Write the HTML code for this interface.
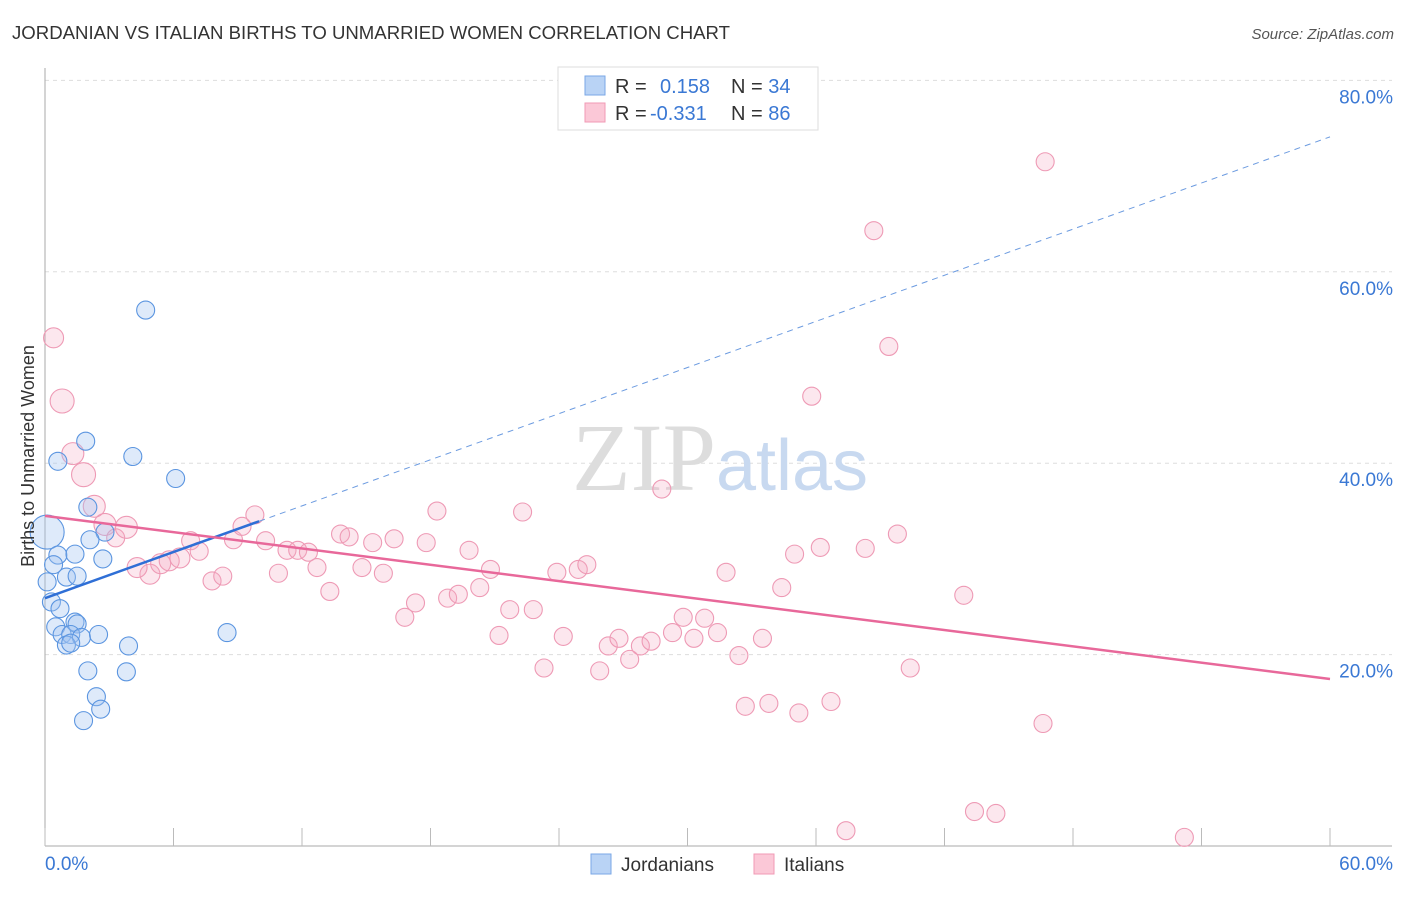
<!DOCTYPE html><html><head><meta charset="utf-8"><style>
body{margin:0;background:#fff;font-family:"Liberation Sans",sans-serif}
svg text{font-family:"Liberation Sans",sans-serif}
</style></head><body>
<svg width="1406" height="892">
<text x="12" y="39" font-size="18.6" fill="#333">JORDANIAN VS ITALIAN BIRTHS TO UNMARRIED WOMEN CORRELATION CHART</text>
<text x="1394" y="39" font-size="15" fill="#555" text-anchor="end" font-style="italic">Source: ZipAtlas.com</text>
<g id="grid"></g>
<text x="720" y="490" font-size="96" text-anchor="middle"><tspan fill="#ddd" font-family="Liberation Serif">ZIP</tspan><tspan fill="#c8d9f0" font-size="72">atlas</tspan></text>
<g id="pts"></g><g id="lines"></g>
<text transform="translate(34,456) rotate(-90)" font-size="18" fill="#333" text-anchor="middle">Births to Unmarried Women</text>
<g>
<rect x="558" y="67" width="260" height="63" fill="#fff" stroke="#ddd"/>
<rect x="585" y="76" width="20" height="19" fill="#b9d3f5" stroke="#7aa7e6"/>
<rect x="585" y="103" width="20" height="19" fill="#fbc8d7" stroke="#f09ab4"/>
<text x="615" y="93" font-size="20" fill="#333">R = <tspan fill="#3a78d4" x="660">0.158</tspan><tspan x="731" fill="#333">N = </tspan><tspan fill="#3a78d4">34</tspan></text>
<text x="615" y="120" font-size="20" fill="#333">R = <tspan fill="#3a78d4" x="650">-0.331</tspan><tspan x="731" fill="#333">N = </tspan><tspan fill="#3a78d4">86</tspan></text>
</g>
<g>
<rect x="591" y="854" width="20" height="20" fill="#b9d3f5" stroke="#7aa7e6"/>
<text x="621" y="871" font-size="19" fill="#333">Jordanians</text>
<rect x="754" y="854" width="20" height="20" fill="#fbc8d7" stroke="#f09ab4"/>
<text x="784" y="871" font-size="19" fill="#333">Italians</text>
</g>
</svg>
<script>
const yTicks=[20,40,60,80];
const xTickLabels=["0.0%","60.0%"];
const blueX=[4.7,1.9,0.6,4.1,6.1,2.0,2.8,2.1,0.1,0.6,1.4,0.4,1.0,1.5,2.7,0.1,0.3,0.7,0.5,0.8,1.4,1.5,1.2,1.7,2.5,1.0,1.2,3.9,8.5,2.0,3.8,2.4,2.6,1.8];
const blueY=[56.0,42.3,40.2,40.7,38.4,35.4,32.8,32.0,32.8,30.4,30.5,29.4,28.1,28.2,30.0,27.6,25.5,24.8,22.9,22.1,23.4,23.2,22.1,21.8,22.1,21.0,21.2,20.9,22.3,18.3,18.2,15.6,14.3,13.1];
const blueR=[9,9,9,9,9,9,9,9,17,9,9,9,9,9,9,9,9,9,9,9,9,9,9,9,9,9,9,9,9,9,9,9,9,9];
const pinkX=[0.4,0.8,1.3,1.8,2.3,2.8,3.3,3.8,4.9,4.3,5.4,5.8,6.3,6.8,7.2,7.8,8.3,8.8,9.2,9.8,10.3,10.9,11.3,11.8,12.3,12.7,13.3,13.8,14.2,14.8,15.3,15.8,16.3,16.8,17.3,17.8,18.3,18.8,19.3,19.8,20.3,20.8,21.2,21.7,22.3,22.8,23.3,23.9,24.2,24.9,25.3,25.9,26.3,26.8,27.3,27.8,28.3,28.8,29.3,29.8,30.3,30.8,31.4,31.8,32.4,32.7,33.5,33.8,34.4,35.0,35.2,35.8,36.2,36.7,38.3,38.7,39.4,39.8,40.4,42.9,46.6,46.7,43.4,44.4,37.4,53.2];
const pinkY=[53.1,46.5,41.0,38.8,35.5,33.6,32.2,33.3,28.4,29.1,29.5,29.8,30.1,31.9,30.8,27.7,28.2,32.0,33.4,34.6,31.9,28.5,30.9,30.9,30.7,29.1,26.6,32.6,32.3,29.1,31.7,28.5,32.1,23.9,25.4,31.7,35.0,25.9,26.3,30.9,27.0,28.9,22.0,24.7,34.9,24.7,18.6,28.6,21.9,28.9,29.4,18.3,20.9,21.7,19.5,20.9,21.4,37.3,22.3,23.9,21.7,23.8,22.3,28.6,19.9,14.6,21.7,14.9,27.0,30.5,13.9,47.0,31.2,15.1,31.1,64.3,52.2,32.6,18.6,26.2,12.8,71.5,3.6,3.4,1.6,0.9];
const pinkR=[10,12,11,12,11,11,9,11,10,10,10,10,10,9,9,9,9,9,9,9,9,9,9,9,9,9,9,9,9,9,9,9,9,9,9,9,9,9,9,9,9,9,9,9,9,9,9,9,9,9,9,9,9,9,9,9,9,9,9,9,9,9,9,9,9,9,9,9,9,9,9,9,9,9,9,9,9,9,9,9,9,9,9,9,9,9];
const blueFit=[25.9,74.1], pinkFit=[34.5,17.45];
const X0=45,X1=1330,Y0=846,PY=9.57;
const sx=v=>X0+v*(X1-X0)/60, sy=v=>Y0-v*PY;
const NS='http://www.w3.org/2000/svg';
function mk(t,a,p){const e=document.createElementNS(NS,t);for(const k in a)e.setAttribute(k,a[k]);p.appendChild(e);return e;}
const g=document.getElementById('grid');
yTicks.forEach(t=>{
 const l=mk('line',{x1:45,x2:1392,y1:sy(t),y2:sy(t),stroke:'#ddd','stroke-dasharray':'4,4'},g);
 
 
 const tx=mk('text',{x:1393,y:sy(t)+23,'font-size':19,fill:'#3a78d4','text-anchor':'end'},g);
 tx.textContent=t.toFixed(1)+'%';
 
 
});
mk('line',{x1:45,x2:45,y1:68,y2:846,stroke:'#aaa'},g);
mk('line',{x1:45,x2:1392,y1:846,y2:846,stroke:'#aaa'},g);
for(let i=0;i<=10;i++){const x=sx(i*6);mk('line',{x1:x,x2:x,y1:828,y2:846,stroke:'#bbb'},g);}
const xl=mk('text',{x:45,y:870,'font-size':19,fill:'#3a78d4'},g);xl.textContent=xTickLabels[0];


const xr=mk('text',{x:1393,y:870,'font-size':19,fill:'#3a78d4','text-anchor':'end'},g);xr.textContent=xTickLabels[1];


const P=document.getElementById('pts');
pinkX.forEach((v,i)=>{const c=mk('circle',{cx:sx(v),cy:sy(pinkY[i]),r:pinkR[i],fill:'rgba(246,170,195,0.28)',stroke:'#ee9ab5','stroke-width':1.1},P);
 
 });
blueX.forEach((v,i)=>{const c=mk('circle',{cx:sx(v),cy:sy(blueY[i]),r:blueR[i],fill:'rgba(160,195,240,0.35)',stroke:'#5b95e0','stroke-width':1.1},P);
 
 });
const L=document.getElementById('lines');
const by=x=>blueFit[0]+(blueFit[1]-blueFit[0])*x/60;
const l1=mk('line',{x1:sx(0),y1:sy(by(0)),x2:sx(10),y2:sy(by(10)),stroke:'#2f6fd6','stroke-width':2.5},L);


const l2=mk('line',{x1:sx(10),y1:sy(by(10)),x2:sx(60),y2:sy(by(60)),stroke:'#6c9be0','stroke-width':1,'stroke-dasharray':'6,5'},L);


const l3=mk('line',{x1:sx(0),y1:sy(pinkFit[0]),x2:sx(60),y2:sy(pinkFit[1]),stroke:'#e8689a','stroke-width':2.5},L);


</script></body></html>
